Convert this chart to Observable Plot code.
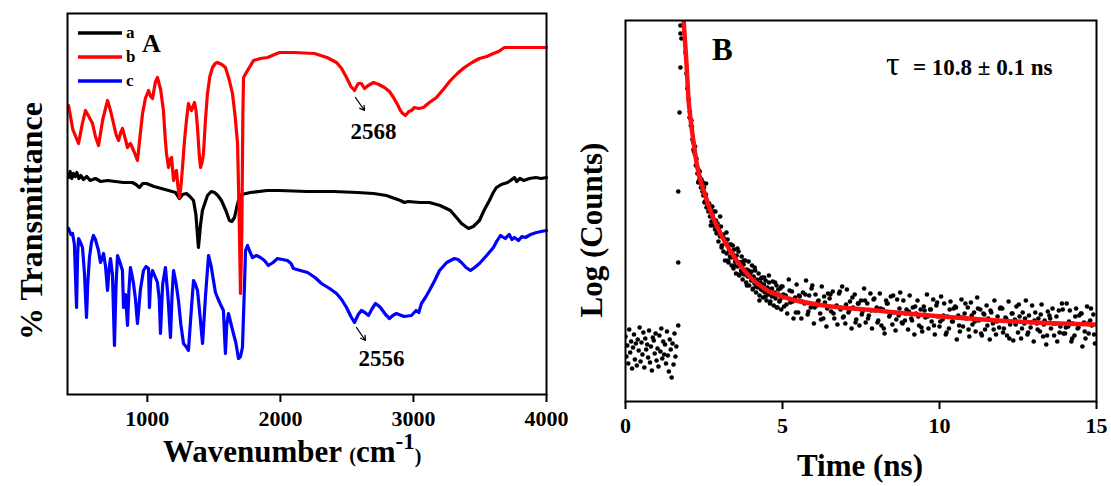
<!DOCTYPE html>
<html><head><meta charset="utf-8">
<script src="https://cdn.jsdelivr.net/npm/d3@7"></script>
<script src="https://cdn.jsdelivr.net/npm/@observablehq/plot@0.6"></script>
<style>
html,body{margin:0;padding:0;background:#fff;}
#wrap{position:relative;width:1111px;height:486px;overflow:hidden;background:#fff;}
#wrap svg{position:absolute;top:0;}
</style></head><body><div id="wrap"></div>
<script>
const FONT = '"Liberation Serif","Times New Roman",Times,serif';

// ---------- Panel A : FTIR spectra (wavenumber cm-1, transmittance a.u. offset) ----------
const seriesNames = ["a", "b", "c"];
const seriesColors = ["#000000", "#ff0000", "#0000ff"];
const wavenumberTicks = [1000, 2000, 3000, 4000];

const traceA = [[408,217],[420,223],[432,216],[445,221],[458,218],[470,222],[485,216],[500,219],[520,215],[545,218],[570,214],[610,216],[650,213],[701,214],[760,213],[820,212],[888,212],[915,210],[941,207],[965,211],[994,211],[1050,208],[1106,206],[1160,204],[1212,202],[1242,196],[1265,200],[1294,201],[1320,198],[1347,194],[1365,180],[1384,147],[1400,170],[1414,184],[1452,199],[1480,203],[1505,202],[1530,199],[1557,194],[1590,184],[1617,174],[1635,173],[1655,177],[1670,186],[1685,194],[1710,200],[1775,202],[1900,204],[1993,204],[2200,203],[2400,203],[2579,202],[2700,201],[2797,199],[2860,196],[2902,194],[2932,192],[2960,193],[3050,192],[3120,192],[3200,189],[3278,184],[3330,176],[3361,171],[3414,166],[3450,168],[3496,174],[3530,184],[3571,194],[3600,202],[3624,207],[3660,210],[3707,212],[3730,214],[3759,217],[3775,213],[3800,216],[3830,214],[3872,216],[3920,217],[3960,216],[4000,217]];

const traceB = [[408,289],[440,265],[483,251],[510,270],[535,284],[560,278],[588,271],[610,258],[633,249],[665,275],[701,294],[725,283],[746,271],[765,260],[783,254],[800,262],[813,266],[830,258],[851,247],[862,250],[873,251],[900,243],[926,234],[945,258],[964,281],[985,296],[1009,304],[1025,298],[1039,296],[1060,312],[1076,317],[1100,305],[1121,284],[1135,255],[1144,241],[1159,227],[1170,235],[1182,237],[1197,214],[1208,222],[1219,224],[1230,208],[1242,197],[1254,210],[1264,227],[1280,255],[1294,274],[1309,291],[1320,287],[1332,284],[1354,292],[1365,285],[1377,267],[1390,240],[1400,227],[1411,232],[1422,241],[1437,275],[1452,301],[1470,318],[1490,327],[1510,331],[1527,332],[1560,330],[1587,327],[1615,315],[1640,301],[1660,278],[1678,251],[1690,180],[1700,101],[1710,160],[1718,280],[1723,317],[1753,324],[1798,334],[1850,336],[1903,337],[1993,342],[2100,342],[2256,341],[2350,337],[2422,332],[2460,326],[2497,317],[2530,308],[2557,304],[2585,311],[2609,311],[2632,306],[2660,309],[2700,312],[2740,310],[2782,307],[2820,303],[2850,297],[2880,290],[2902,284],[2920,281],[2940,279],[2965,283],[2985,284],[3008,287],[3040,286],[3075,287],[3120,292],[3173,297],[3230,306],[3278,314],[3330,321],[3383,327],[3440,332],[3496,336],[3550,338],[3601,341],[3640,343],[3684,347],[3800,347],[4000,347]];

const traceC = [[408,166],[425,160],[438,161],[452,150],[468,87],[476,140],[483,156],[498,152],[513,147],[528,120],[543,77],[552,110],[565,137],[580,152],[595,159],[610,155],[633,144],[640,138],[648,132],[660,136],[671,141],[686,128],[701,104],[712,125],[723,136],[738,120],[753,49],[765,110],[776,139],[795,132],[813,124],[821,87],[836,100],[851,69],[862,105],[873,127],[884,120],[896,111],[911,95],[926,71],[948,105],[971,124],[990,128],[1009,126],[1016,87],[1025,115],[1039,124],[1058,118],[1076,112],[1090,95],[1099,61],[1115,110],[1136,127],[1155,98],[1174,57],[1186,100],[1197,124],[1215,112],[1234,94],[1252,70],[1272,51],[1290,48],[1309,44],[1328,80],[1347,114],[1362,110],[1377,104],[1395,80],[1415,51],[1438,100],[1460,139],[1480,128],[1497,114],[1512,102],[1527,97],[1550,90],[1572,84],[1580,60],[1587,41],[1597,70],[1610,81],[1630,70],[1647,61],[1665,52],[1685,36],[1700,38],[1715,47],[1728,100],[1738,144],[1753,149],[1770,143],[1790,137],[1820,139],[1850,137],[1880,134],[1910,129],[1945,132],[1978,136],[2015,135],[2053,134],[2080,131],[2098,126],[2150,124],[2204,122],[2260,117],[2309,111],[2370,106],[2422,101],[2460,95],[2497,87],[2530,78],[2557,72],[2585,80],[2609,84],[2635,82],[2662,79],[2690,86],[2715,91],[2735,89],[2752,87],[2790,80],[2820,76],[2845,79],[2872,81],[2930,78],[2985,79],[3020,84],[3040,82],[3060,91],[3090,97],[3120,104],[3160,114],[3196,124],[3250,132],[3308,136],[3335,135],[3361,132],[3395,127],[3429,124],[3460,127],[3496,131],[3550,139],[3601,147],[3625,153],[3654,159],[3690,156],[3720,160],[3740,155],[3759,157],[3790,154],[3815,158],[3842,157],[3880,160],[3925,162],[3960,163],[4000,164]];

const peakLabels = ["2568", "2556"];
const peakLabelPos = [[2700, 263], [2760, 36]];
const peakArrows = [[2564, 297, 2632, 284], [2572, 67, 2639, 54]];

// ---------- Panel B : fluorescence decay (time ns, log counts a.u.) ----------
const timeTicks = [0, 5, 10, 15];
const fitCurve = [[1.85,381],[1.94,339],[2.01,301],[2.07,283],[2.13,268],[2.29,234],[2.52,208],[2.74,188],[3.09,164],[3.54,141],[3.98,124],[4.52,111],[5.19,103],[6.33,96],[8.0,91],[9.68,86],[11.37,82],[13.03,79],[14.97,77]];

const baselineDots = [[0.00,65],[0.03,45],[0.06,56],[0.09,38],[0.12,72],[0.15,49],[0.18,60],[0.21,33],[0.24,54],[0.27,67],[0.30,42],[0.33,58],[0.36,36],[0.39,62],[0.42,51],[0.45,74],[0.48,40],[0.51,59],[0.54,47],[0.57,69],[0.60,34],[0.63,63],[0.66,52],[0.69,57],[0.72,44],[0.75,71],[0.78,39],[0.81,55],[0.84,31],[0.87,64],[0.90,61],[0.93,48],[0.96,68],[0.99,41],[1.02,53],[1.05,35],[1.08,66],[1.11,50],[1.14,73],[1.17,43],[1.20,60],[1.23,47],[1.26,57],[1.29,38],[1.32,70],[1.35,46],[1.38,30],[1.41,62],[1.44,52],[1.47,24],[1.50,58],[1.53,37],[1.56,68],[1.59,45],[1.62,55]];

const riseDots = [[1.68,76],[1.68,139],[1.68,210],[1.72,289],[1.75,334],[1.75,368],[1.75,376],[1.78,363],[1.91,349],[1.94,328],[1.97,313],[2.01,302],[2.04,284]];

const decayDots = [[2.05,290],[2.08,276],[2.10,281],[2.13,262],[2.16,259],[2.18,250],[2.21,247],[2.24,236],[2.26,243],[2.29,228],[2.32,232],[2.34,221],[2.37,224],[2.40,214],[2.42,222],[2.45,210],[2.48,206],[2.50,214],[2.53,200],[2.56,207],[2.58,194],[2.61,199],[2.64,190],[2.66,197],[2.69,185],[2.72,193],[2.74,180],[2.77,186],[2.80,176],[2.82,190],[2.85,172],[2.88,181],[2.90,168],[2.93,178],[2.96,160],[2.98,171],[3.01,165],[3.04,175],[3.06,154],[3.09,166],[3.12,150],[3.14,163],[3.17,141],[3.20,158],[3.22,148],[3.25,162],[3.28,139],[3.30,151],[3.33,145],[3.36,157],[3.38,136],[3.41,148],[3.44,133],[3.46,152],[3.49,140],[3.52,128],[3.54,146],[3.57,135],[3.60,150],[3.62,126],[3.65,139],[3.68,131],[3.70,145],[3.73,122],[3.76,137],[3.78,127],[3.81,141],[3.84,119],[3.86,132],[3.89,125],[3.92,140],[3.94,116],[3.97,128],[4.00,121],[4.03,136],[4.05,112],[4.08,125],[4.11,118],[4.13,131],[4.16,109],[4.19,122],[4.21,114],[4.24,128],[4.27,106],[4.30,119],[4.32,112],[4.35,124],[4.38,104],[4.41,117],[4.44,109],[4.46,121],[4.49,101],[4.52,114],[4.55,107],[4.57,119],[4.60,98],[4.63,112],[4.66,105],[4.69,120],[4.72,96],[4.75,109],[4.78,103],[4.81,116],[4.84,94],[4.87,107],[4.90,100],[4.93,113],[4.96,92],[4.99,104]];

const decayDots2 = [[2.115,275],[2.165,252],[2.215,255],[2.265,237],[2.315,219],[2.365,230],[2.415,218],[2.465,219],[2.515,199],[2.565,218],[2.615,196],[2.665,198],[2.715,176],[2.765,195],[2.815,180],[2.865,190],[2.915,169],[2.965,173],[3.015,185],[3.065,156],[3.115,167],[3.165,158],[3.215,169],[3.265,141],[3.315,157],[3.365,144],[3.415,156],[3.465,136],[3.515,142],[3.565,153],[3.615,127],[3.665,139],[3.715,128],[3.765,141],[3.815,129],[3.865,116],[3.915,131],[3.965,125],[4.015,130],[4.065,113],[4.115,134],[4.165,115],[4.215,119],[4.265,101],[4.315,123],[4.365,111],[4.415,124],[4.465,105],[4.515,112],[4.565,126],[4.615,100],[4.665,113],[4.715,106],[4.765,119],[4.815,94],[4.865,112],[4.915,101],[4.965,115]];

const tailDots = [[5.00,115],[5.05,95],[5.10,106],[5.15,88],[5.20,122],[5.25,99],[5.30,110],[5.35,83],[5.40,104],[5.45,117],[5.50,89],[5.55,105],[5.60,83],[5.65,109],[5.70,98],[5.75,121],[5.80,87],[5.85,106],[5.90,94],[5.95,116],[6.00,78],[6.05,107],[6.10,96],[6.15,101],[6.20,88],[6.25,115],[6.30,83],[6.35,99],[6.40,75],[6.45,108],[6.50,103],[6.55,90],[6.60,110],[6.65,83],[6.70,95],[6.75,77],[6.80,108],[6.85,92],[6.90,115],[6.95,85],[7.00,78],[7.05,112],[7.10,89],[7.15,100],[7.20,73],[7.25,94],[7.30,107],[7.35,82],[7.40,98],[7.45,76],[7.50,101],[7.55,90],[7.60,113],[7.65,79],[7.70,98],[7.75,86],[7.80,108],[7.85,73],[7.90,102],[7.95,91],[8.00,94],[8.05,81],[8.10,108],[8.15,76],[8.20,92],[8.25,68],[8.30,101],[8.35,98],[8.40,85],[8.45,105],[8.50,77],[8.55,89],[8.60,71],[8.65,102],[8.70,86],[8.75,109],[8.80,79],[8.85,101],[8.90,81],[8.95,92],[9.00,72],[9.05,106],[9.10,83],[9.15,94],[9.20,67],[9.25,88],[9.30,101],[9.35,76],[9.40,92],[9.45,70],[9.50,95],[9.55,84],[9.60,107],[9.65,73],[9.70,92],[9.75,80],[9.80,102],[9.85,67],[9.90,96],[9.95,85],[10.00,75],[10.05,105],[10.10,82],[10.15,98],[10.20,67],[10.25,85],[10.30,73],[10.35,100],[10.40,80],[10.45,93],[10.50,95],[10.55,62],[10.60,86],[10.65,70],[10.70,102],[10.75,75],[10.80,88],[10.85,83],[10.90,94],[10.95,65],[11.00,99],[11.05,77],[11.10,89],[11.15,70],[11.20,104],[11.25,81],[11.30,92],[11.35,66],[11.40,88],[11.45,72],[11.50,96],[11.55,83],[11.60,62],[11.65,89],[11.70,78],[11.75,101],[11.80,67],[11.85,85],[11.90,74],[11.95,94],[12.00,93],[12.05,73],[12.10,84],[12.15,66],[12.20,100],[12.25,77],[12.30,88],[12.35,61],[12.40,82],[12.45,95],[12.50,69],[12.55,85],[12.60,63],[12.65,89],[12.70,78],[12.75,101],[12.80,67],[12.85,86],[12.90,74],[12.95,96],[13.00,60],[13.05,89],[13.10,78],[13.15,83],[13.20,70],[13.25,97],[13.30,65],[13.35,81],[13.40,57],[13.45,90],[13.50,86],[13.55,73],[13.60,93],[13.65,66],[13.70,78],[13.75,60],[13.80,91],[13.85,75],[13.90,98],[13.95,68],[14.00,68],[14.05,98],[14.10,75],[14.15,91],[14.20,60],[14.25,78],[14.30,66],[14.35,93],[14.40,73],[14.45,86],[14.50,88],[14.55,55],[14.60,79],[14.65,63],[14.70,95],[14.75,68],[14.80,81],[14.85,76],[14.90,87],[14.95,58]];

const tailDots2 = [[5.025,107],[5.125,97],[5.225,111],[5.325,100],[5.425,89],[5.525,106],[5.625,100],[5.725,107],[5.825,90],[5.925,113],[6.025,94],[6.125,100],[6.225,82],[6.325,105],[6.425,93],[6.525,107],[6.625,88],[6.725,96],[6.825,110],[6.925,84],[7.025,97],[7.125,91],[7.225,104],[7.325,79],[7.425,98],[7.525,87],[7.625,101],[7.725,83],[7.825,91],[7.925,103],[8.025,79],[8.125,93],[8.225,73],[8.325,98],[8.425,87],[8.525,106],[8.625,82],[8.725,93],[8.825,78],[8.925,88],[9.025,90],[9.125,81],[9.225,95],[9.325,85],[9.425,74],[9.525,91],[9.625,85],[9.725,92],[9.825,76],[9.925,99],[10.025,80],[10.125,86],[10.225,69],[10.325,92],[10.425,80],[10.525,94],[10.625,76],[10.725,84],[10.825,98],[10.925,72],[11.025,86],[11.125,80],[11.225,93],[11.325,68],[11.425,87],[11.525,76],[11.625,91],[11.725,72],[11.825,80],[11.925,93],[12.025,69],[12.125,83],[12.225,63],[12.325,88],[12.425,77],[12.525,97],[12.625,73],[12.725,83],[12.825,69],[12.925,79],[13.025,81],[13.125,72],[13.225,87],[13.325,77],[13.425,66],[13.525,83],[13.625,78],[13.725,85],[13.825,69],[13.925,92],[14.025,74],[14.125,80],[14.225,63],[14.325,85],[14.425,74],[14.525,88],[14.625,70],[14.725,78],[14.825,93],[14.925,67]];

// ---------- build tables ----------
const traces = [traceA, traceB, traceC];
const ftir = [];
[0, 2, 1].forEach(i => traces[i].forEach(([w, t]) => ftir.push({wavenumber: w, T: t, sample: seriesNames[i]})));
const annot = peakLabels.map((s, i) => ({label: s, x: peakLabelPos[i][0], y: peakLabelPos[i][1]}));
const arrows = peakArrows.map(([x1, y1, x2, y2]) => ({x1, y1, x2, y2}));
const dots = [...baselineDots, ...riseDots, ...decayDots, ...decayDots2, ...tailDots, ...tailDots2].map(([t, c]) => ({t, c}));
const fit = fitCurve.map(([t, c]) => ({t, c}));

const tickFont = {fontFamily: FONT, fontSize: 22, fontWeight: "bold"};
const wrap = document.getElementById("wrap");

const plotA = Plot.plot({
  width: 556, height: 486,
  marginLeft: 67, marginRight: 10, marginTop: 13, marginBottom: 92,
  style: {background: "transparent", overflow: "visible", color: "#000"},
  x: {domain: [400, 4000]},
  y: {domain: [0, 381], axis: null},
  color: {domain: seriesNames, range: seriesColors},
  marks: [
    Plot.line(ftir, {x: "wavenumber", y: "T", z: "sample", stroke: "sample", strokeWidth: 3.2, curve: "linear", strokeLinejoin: "round"}),
    Plot.arrow(arrows, {x1: "x1", y1: "y1", x2: "x2", y2: "y2", stroke: "#000", strokeWidth: 1.3, headLength: 6}),
    Plot.text(annot, {x: "x", y: "y", text: "label", fontFamily: FONT, fontSize: 23, fontWeight: "bold", fill: "#000"}),
    Plot.axisX({ticks: wavenumberTicks, tickSize: 8, tickPadding: 8, strokeWidth: 2, label: null, tickFormat: d => String(d), ...tickFont}),
    Plot.frame({stroke: "#000", strokeWidth: 2})
  ]
});
plotA.style.left = "0px";
wrap.appendChild(plotA);

const plotB = Plot.plot({
  width: 555, height: 486,
  marginLeft: 69, marginRight: 15, marginTop: 20, marginBottom: 85,
  style: {background: "transparent", overflow: "visible", color: "#000"},
  x: {domain: [0, 15]},
  y: {domain: [0, 381], axis: null},
  marks: [
    Plot.dot(dots, {x: "t", y: "c", r: 2.3, fill: "#000", stroke: "none", clip: true}),
    Plot.line(fit, {x: "t", y: "c", stroke: "#ff1010", strokeWidth: 4.5, curve: "monotone-x", clip: true}),
    Plot.axisX({ticks: timeTicks, tickSize: 8, tickPadding: 8, strokeWidth: 2, label: null, ...tickFont}),
    Plot.frame({stroke: "#000", strokeWidth: 2})
  ]
});
plotB.style.left = "556px";
wrap.appendChild(plotB);

// ---------- titles, legend, panel letters ----------
const ov = d3.select(wrap).append("svg")
  .attr("width", 1111).attr("height", 486)
  .style("left", "0px").style("pointer-events", "none")
  .attr("font-family", FONT).attr("font-weight", "bold").attr("fill", "#000");

ov.append("text").attr("transform", "translate(42,221) rotate(-90)")
  .attr("text-anchor", "middle").attr("font-size", 32).text("% Transmittance");
const xt = ov.append("text").attr("x", 163).attr("y", 462);
xt.append("tspan").attr("font-size", 31).text("Wavenumber ");
xt.append("tspan").attr("font-size", 20).text("(");
xt.append("tspan").attr("font-size", 31).text("cm");
xt.append("tspan").attr("font-size", 23).attr("dy", -13).text("-1");
xt.append("tspan").attr("font-size", 20).attr("dy", 14).text(")");

const legendY = [33, 57, 81];
seriesNames.forEach((s, i) => {
  ov.append("line").attr("x1", 78).attr("x2", 122).attr("y1", legendY[i]).attr("y2", legendY[i])
    .attr("stroke", seriesColors[i]).attr("stroke-width", 3.5);
  ov.append("text").attr("x", 126).attr("y", legendY[i] + 5).attr("font-size", 17).text(s);
});
ov.append("text").attr("x", 142).attr("y", 52).attr("font-size", 26).text("A");

ov.append("text").attr("transform", "translate(602,230) rotate(-90)")
  .attr("text-anchor", "middle").attr("font-size", 31).text("Log (Counts)");
ov.append("text").attr("x", 860).attr("y", 476).attr("text-anchor", "middle")
  .attr("font-size", 31).text("Time (ns)");
ov.append("text").attr("x", 712).attr("y", 60).attr("font-size", 31).text("B");
const tau = ov.append("text").attr("x", 886).attr("y", 75);
tau.append("tspan").attr("font-size", 34).attr("font-weight", "normal").text("τ");
tau.append("tspan").attr("x", 913).attr("font-size", 23).text("= 10.8 ± 0.1 ns");
</script></body></html>
